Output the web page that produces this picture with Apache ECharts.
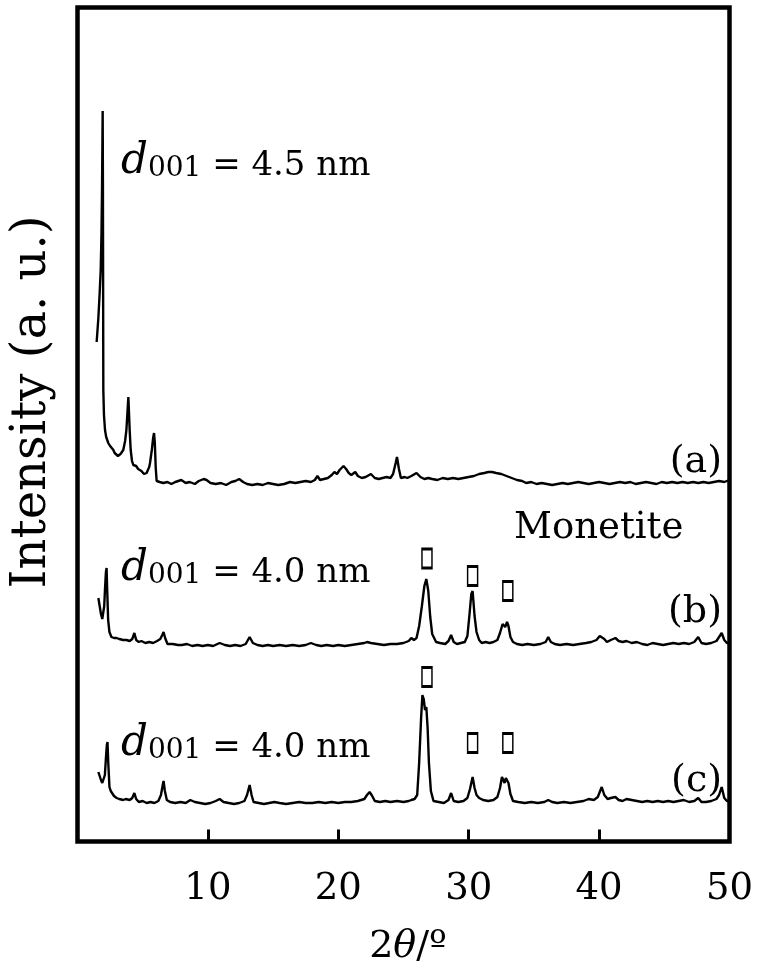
<!DOCTYPE html>
<html>
<head>
<meta charset="utf-8">
<script src="https://cdn.jsdelivr.net/npm/echarts@6/dist/echarts.min.js"></script>
<style>html,body{margin:0;padding:0;background:#fff}#c{width:763px;height:976px}</style>
</head>
<body>
<div id="c"></div>
<script>
// XRD patterns: [2theta, intensity above own baseline] (arbitrary units)
var scanA = [[1.47,141],[1.6,165],[1.7,190],[1.78,213],[1.84,250],[1.88,293],[1.91,340],[1.93,372],[1.95,300],[1.98,93],[2.03,68],[2.11,53],[2.2,46],[2.36,40],[2.5,37],[2.6,35],[2.75,33],[2.85,30],[3.0,28],[3.1,27],[3.2,26],[3.3,29],[3.4,31],[3.51,33],[3.65,42],[3.75,53],[3.85,75],[3.9,86],[3.95,70],[4.0,53],[4.08,33],[4.18,22],[4.28,18],[4.4,19],[4.5,17],[4.65,14],[4.79,13],[4.9,12],[5.0,11],[5.1,9],[5.18,8],[5.3,10],[5.4,12],[5.5,16],[5.56,20],[5.7,33],[5.8,45],[5.87,50],[5.93,40],[6.0,15],[6.07,2],[6.3,1],[6.58,0],[6.9,1],[7.2,-1],[7.5,1],[7.96,3],[8.3,0],[8.6,1],[9.0,-1],[9.3,2],[9.68,4],[9.9,3],[10.2,0],[10.6,-1],[11.0,0],[11.4,-2],[11.8,1],[12.1,2],[12.4,4],[12.7,1],[13.0,-1],[13.4,-2],[13.8,-1],[14.2,-2],[14.6,0],[15.0,-1],[15.4,-2],[15.85,-1],[16.3,1],[16.7,0],[17.1,1],[17.5,2],[17.9,1],[18.2,3],[18.4,7],[18.6,3],[18.9,4],[19.2,5],[19.5,8],[19.7,11],[19.9,9],[20.1,13],[20.4,17],[20.6,14],[20.8,10],[21.0,8],[21.3,11],[21.5,7],[21.8,5],[22.1,6],[22.5,9],[22.8,5],[23.1,4],[23.4,5],[23.7,6],[24.0,5],[24.2,9],[24.4,20],[24.5,26],[24.65,14],[24.8,5],[25.1,6],[25.3,5],[25.6,7],[26.0,10],[26.3,6],[26.6,4],[26.9,5],[27.2,4],[27.6,3],[28.0,5],[28.4,4],[28.8,5],[29.2,4],[29.6,5],[30.0,6],[30.4,7],[30.8,9],[31.2,10],[31.5,11],[31.8,11],[32.1,10],[32.5,9],[32.9,7],[33.3,5],[33.7,3],[34.1,2],[34.4,0],[34.8,1],[35.2,-1],[35.6,0],[36.0,-1],[36.4,-2],[36.8,-1],[37.2,0],[37.6,-1],[38.0,0],[38.4,1],[38.8,0],[39.2,-1],[39.6,0],[40.0,1],[40.4,0],[40.8,-1],[41.2,0],[41.6,1],[42.0,0],[42.4,1],[42.8,-1],[43.2,0],[43.6,1],[44.0,0],[44.4,-1],[44.8,1],[45.2,0],[45.6,1],[46.0,0],[46.4,1],[46.8,0],[47.2,1],[47.6,0],[48.0,1],[48.4,0],[48.8,1],[49.2,2],[49.6,1],[50.0,3]];

var scanB = [[1.6,48],[1.7,40],[1.8,32],[1.9,27],[1.96,26],[2.05,40],[2.12,60],[2.18,74],[2.23,78],[2.28,55],[2.35,26],[2.45,14],[2.6,9],[2.8,8],[3.0,8],[3.2,7],[3.5,6],[3.75,6],[4.0,5],[4.2,7],[4.36,13],[4.5,6],[4.7,4],[4.9,5],[5.2,3],[5.5,4],[5.8,3],[6.1,5],[6.35,7],[6.5,11],[6.6,14],[6.72,8],[6.9,2],[7.3,2],[7.7,1],[8.0,1],[8.4,2],[8.8,0],[9.2,1],[9.6,0],[10.0,1],[10.4,0],[10.9,3],[11.3,1],[11.7,0],[12.1,1],[12.5,0],[12.9,2],[13.2,9],[13.45,3],[13.8,1],[14.2,0],[14.6,1],[15.0,0],[15.5,1],[16.0,0],[16.5,1],[17.0,0],[17.5,1],[17.9,3],[18.3,1],[18.7,0],[19.1,1],[19.6,0],[20.0,1],[20.5,0],[21.0,1],[21.5,2],[22.0,3],[22.2,4],[22.5,3],[23.0,2],[23.5,1],[24.0,2],[24.5,2],[25.0,3],[25.4,5],[25.6,8],[25.8,6],[26.0,8],[26.2,20],[26.4,39],[26.6,60],[26.75,67],[26.9,55],[27.05,29],[27.2,12],[27.5,4],[27.8,3],[28.2,2],[28.45,5],[28.65,11],[28.85,4],[29.1,2],[29.4,3],[29.7,4],[29.9,10],[30.05,30],[30.2,52],[30.3,55],[30.45,30],[30.6,14],[30.8,6],[31.0,3],[31.3,4],[31.6,3],[31.9,4],[32.2,6],[32.4,13],[32.6,22],[32.72,21],[32.8,19],[32.94,24],[33.05,20],[33.2,9],[33.4,4],[33.7,2],[34.1,1],[34.5,2],[35.0,1],[35.5,2],[35.9,4],[36.1,9],[36.3,4],[36.6,2],[37.0,1],[37.5,2],[38.0,1],[38.5,2],[39.0,3],[39.4,4],[39.8,6],[40.05,10],[40.2,11],[40.4,7],[40.6,4],[40.9,6],[41.25,8],[41.5,5],[41.8,4],[42.1,5],[42.5,3],[42.9,4],[43.3,2],[43.7,1],[44.1,3],[44.5,2],[44.9,1],[45.3,2],[45.7,3],[46.1,2],[46.5,3],[46.9,2],[47.3,4],[47.6,9],[47.85,3],[48.2,2],[48.6,3],[49.0,5],[49.2,9],[49.4,13],[49.6,6],[49.8,3],[50.0,3]];

var scanC = [[1.6,31],[1.7,27],[1.8,23],[1.9,20],[2.0,18],[2.1,28],[2.18,45],[2.25,58],[2.3,61],[2.36,40],[2.45,16],[2.55,12],[2.64,10],[2.8,7],[3.0,5],[3.2,4],[3.5,3],[3.7,4],[4.0,3],[4.2,5],[4.36,10],[4.5,4],[4.7,1],[5.0,2],[5.3,0],[5.6,1],[5.9,0],[6.2,2],[6.4,8],[6.55,19],[6.6,22],[6.7,12],[6.85,3],[7.1,1],[7.5,0],[7.9,1],[8.3,0],[8.65,3],[9.0,1],[9.4,0],[9.8,-1],[10.2,0],[10.6,2],[10.9,4],[11.2,1],[11.6,0],[12.0,-1],[12.4,0],[12.8,2],[13.0,8],[13.2,18],[13.35,8],[13.5,1],[13.9,0],[14.3,-1],[14.7,0],[15.1,1],[15.5,0],[16.0,-1],[16.5,0],[17.0,1],[17.5,0],[18.0,0],[18.5,1],[19.0,0],[19.5,1],[20.0,0],[20.5,1],[21.0,1],[21.5,2],[22.0,4],[22.2,8],[22.4,11],[22.6,7],[22.8,2],[23.2,1],[23.6,2],[24.0,1],[24.5,2],[25.0,1],[25.4,2],[25.6,3],[25.85,4],[26.05,8],[26.2,40],[26.35,85],[26.45,108],[26.55,104],[26.65,93],[26.75,96],[26.85,75],[26.95,40],[27.1,12],[27.3,2],[27.7,1],[28.1,0],[28.45,3],[28.65,10],[28.85,2],[29.2,1],[29.6,2],[29.9,5],[30.1,14],[30.3,26],[30.45,15],[30.6,8],[30.8,5],[31.1,3],[31.5,2],[31.9,3],[32.2,6],[32.4,15],[32.55,26],[32.65,24],[32.75,20],[32.85,25],[32.94,27],[33.05,20],[33.2,9],[33.4,2],[33.8,1],[34.3,0],[34.8,1],[35.3,0],[35.8,1],[36.1,3],[36.4,1],[36.8,0],[37.3,1],[37.8,0],[38.3,1],[38.8,2],[39.2,4],[39.6,3],[39.9,6],[40.2,16],[40.4,8],[40.65,4],[40.9,5],[41.25,6],[41.5,3],[41.8,2],[42.1,4],[42.5,3],[42.9,2],[43.3,1],[43.7,2],[44.1,1],[44.5,2],[44.9,1],[45.3,2],[45.7,1],[46.1,2],[46.5,3],[46.9,1],[47.3,2],[47.6,5],[47.85,1],[48.2,1],[48.6,2],[49.0,4],[49.2,8],[49.4,16],[49.6,5],[49.8,2],[50.0,2]];

// vertical offsets of each pattern (stacked display)
var offsets = [358.5, 195.5, 38.5];

// Monetite reflection markers [2theta, height]
var markB = [[26.8, 283], [30.3, 265.5], [33.0, 250.5]];
var markC = [[26.8, 164.5], [30.3, 98.5], [33.0, 98.5]];

var xTicks = [0, 10, 20, 30, 40, 50];

var FF = 'DejaVu Serif';

function shift(arr, off) { return arr.map(function (p) { return [p[0], p[1] + off]; }); }

var chart = echarts.init(document.getElementById('c'), null, { renderer: 'canvas' });

function lineSeries(data) {
  return { type: 'line', data: data, showSymbol: false, smooth: false, animation: false,
    lineStyle: { color: '#000', width: 2.4 }, z: 3 };
}
function markSeries(data) {
  return { type: 'scatter', data: data, symbol: 'rect', symbolSize: [10, 19], animation: false,
    itemStyle: { color: '#fff', borderColor: '#000', borderWidth: 2, opacity: 1 }, z: 4 };
}

function dLabel(x, y, val) {
  return { type: 'text', x: x, y: y, z: 10,
    style: { text: '{d|d}{s|001}{t| = ' + val + ' nm}', align: 'left', verticalAlign: 'bottom',
      rich: {
        d: { fontFamily: FF, fontStyle: 'italic', fontSize: 42, lineHeight: 42, verticalAlign: 'bottom', fill: '#000' },
        s: { fontFamily: FF, fontSize: 28, lineHeight: 28, verticalAlign: 'bottom', fill: '#000' },
        t: { fontFamily: FF, fontSize: 34, lineHeight: 34, verticalAlign: 'bottom', fill: '#000' }
      } } };
}
function plain(x, y, txt, size, align) {
  return { type: 'text', x: x, y: y, z: 10,
    style: { text: txt, fontFamily: FF, fontSize: size, align: align || 'left', verticalAlign: 'middle', fill: '#000' } };
}

var option = {
  backgroundColor: '#fff',
  animation: false,
  grid: { left: 77.5, right: 33.5, top: 7.5, bottom: 134.5, show: true, borderColor: '#000', borderWidth: 4.5, backgroundColor: 'transparent' },
  xAxis: {
    type: 'value', min: xTicks[0], max: xTicks[xTicks.length - 1], interval: 10,
    axisLine: { show: false },
    axisTick: { show: true, inside: true, length: 12, lineStyle: { color: '#000', width: 3 } },
    axisLabel: { show: true, margin: 29, color: '#000', fontFamily: FF, fontSize: 37,
      formatter: function (v) { return v === 0 ? '' : String(v); } },
    splitLine: { show: false }
  },
  yAxis: { type: 'value', min: 0, max: 834, show: false, splitLine: { show: false } },
  series: [
    lineSeries(shift(scanA, offsets[0])),
    lineSeries(shift(scanB, offsets[1])),
    lineSeries(shift(scanC, offsets[2])),
    markSeries(markB),
    markSeries(markC)
  ],
  graphic: [
    dLabel(121, 183, '4.5'),
    dLabel(121, 590, '4.0'),
    dLabel(121, 765, '4.0'),
    plain(722, 462, '(a)', 38, 'right'),
    plain(722, 612, '(b)', 38, 'right'),
    plain(722, 781, '(c)', 38, 'right'),
    plain(514, 528, 'Monetite', 37, 'left'),
    { type: 'text', x: 33, y: 402, rotation: Math.PI / 2, z: 10,
      style: { text: 'Intensity (a. u.)', fontFamily: FF, fontSize: 48, align: 'center', verticalAlign: 'middle', fill: '#000' } },
    { type: 'text', x: 408, y: 947, z: 10,
      style: { text: '{n|2}{t|θ}{n|/º}', align: 'center', verticalAlign: 'middle',
        rich: {
          n: { fontFamily: FF, fontSize: 38, fill: '#000' },
          t: { fontFamily: FF, fontStyle: 'italic', fontSize: 38, fill: '#000' }
        } } }
  ]
};
chart.setOption(option);
</script>
</body>
</html>
